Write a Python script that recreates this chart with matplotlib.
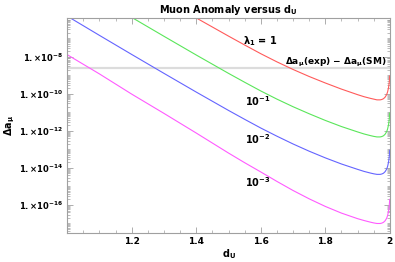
import matplotlib
matplotlib.use("Agg")
import matplotlib.pyplot as plt
from matplotlib.ticker import FixedLocator, FixedFormatter, NullFormatter, MultipleLocator

plt.rcParams['font.family'] = 'DejaVu Sans'
plt.rcParams['mathtext.default'] = 'bf'

# dimension d_U of the unparticle operator
d_u = [1.0, 1.1, 1.2, 1.3, 1.4, 1.5, 1.55, 1.6, 1.65, 1.7, 1.75, 1.8, 1.85, 1.9, 1.92, 1.94,
       1.95, 1.96, 1.97, 1.975, 1.98, 1.985, 1.99, 1.993, 1.996, 1.998, 1.9995]

# log10 of the unparticle contribution
# lambda_1 = 1 (red), from d_U = 1.3 on
red_log = [-4.90, -5.91, -6.89, -7.37, -7.84, -8.28, -8.69, -9.07, -9.42, -9.75, -10.05,
           -10.16, -10.25, -10.29, -10.33, -10.33, -10.31, -10.27, -10.19, -10.05, -9.90,
           -9.66, -9.40, -9.04]
# lambda_1 = 1e-1 (green), from d_U = 1.1 on
green_log = [-4.85, -5.88, -6.90, -7.91, -8.90, -9.38, -9.85, -10.29, -10.70, -11.08, -11.44,
             -11.77, -12.06, -12.17, -12.26, -12.30, -12.33, -12.33, -12.31, -12.27, -12.19,
             -12.05, -11.90, -11.66, -11.40, -11.04]
# lambda_1 = 1e-2 (blue)
blue_log = [-5.81, -6.85, -7.88, -8.90, -9.91, -10.90, -11.38, -11.85, -12.29, -12.71, -13.10,
            -13.46, -13.79, -14.08, -14.19, -14.28, -14.32, -14.35, -14.35, -14.33, -14.29,
            -14.21, -14.07, -13.92, -13.68, -13.42, -13.05]
# lambda_1 = 1e-3 (magenta)
magenta_log = [-7.89, -8.93, -10.02, -11.06, -12.12, -13.20, -13.72, -14.22, -14.73, -15.22,
               -15.67, -16.08, -16.44, -16.74, -16.84, -16.93, -16.97, -17.00, -17.00, -16.98,
               -16.94, -16.86, -16.72, -16.57, -16.33, -16.07, -15.70]

delta_a_mu = 2.55e-9   # measured deviation exp - SM

y_major = [1e-16, 1e-14, 1e-12, 1e-10, 1e-8]
y_labels = [r'$1.{\times}10^{-16}$', r'$1.{\times}10^{-14}$', r'$1.{\times}10^{-12}$',
            r'$1.{\times}10^{-10}$', r'$1.{\times}10^{-8}$']
x_major = [1.2, 1.4, 1.6, 1.8, 2.0]
x_labels = ['1.2', '1.4', '1.6', '1.8', '2']

fig = plt.figure(figsize=(3.95, 2.62), dpi=100)
ax = fig.add_axes([0.170, 0.112, 0.817, 0.818])

ax.axhline(delta_a_mu, color='#dcdcdc', lw=1.6, zorder=1)
ax.plot(d_u[3:], [10 ** v for v in red_log], color='#ff5a5a', lw=0.8)
ax.plot(d_u[1:], [10 ** v for v in green_log], color='#5ae65a', lw=0.8)
ax.plot(d_u, [10 ** v for v in blue_log], color='#6464ff', lw=0.8)
ax.plot(d_u, [10 ** v for v in magenta_log], color='#ff5aff', lw=0.8)

ax.set_yscale('log')
ax.set_xlim(1.0, 2.0)
ax.set_ylim(3.2e-18, 1.17e-6)

ax.yaxis.set_major_locator(FixedLocator(y_major))
ax.yaxis.set_major_formatter(FixedFormatter(y_labels))
minor = [m * 10.0 ** e for e in range(-18, -5) for m in range(1, 10)]
minor = [v for v in minor if v not in y_major]
ax.yaxis.set_minor_locator(FixedLocator(minor))
ax.yaxis.set_minor_formatter(NullFormatter())

ax.xaxis.set_major_locator(FixedLocator(x_major))
ax.xaxis.set_major_formatter(FixedFormatter(x_labels))
ax.xaxis.set_minor_locator(MultipleLocator(0.05))

for s in ax.spines.values():
    s.set_color('#a0a0a0')
    s.set_linewidth(0.8)
ax.tick_params(which='both', direction='in', top=True, right=True, color='#a0a0a0', pad=3)
ax.tick_params(axis='y', labelsize=6)
ax.tick_params(axis='x', labelsize=6.5)
ax.tick_params(which='major', length=4, width=0.6)
ax.tick_params(which='minor', length=2, width=0.5)
for lab in ax.get_xticklabels():
    lab.set_fontweight('bold')

ax.set_title(r'Muon Anomaly versus $d_U$', fontsize=7, fontweight='bold', pad=4)
ax.set_xlabel(r'$d_U$', fontsize=7, labelpad=1)
ax.set_ylabel(r'$\Delta a_\mu$', fontsize=7, labelpad=1)

ax.text(1.6, 7e-8, r'$\lambda_1\,=\,1$', fontsize=7, ha='center', va='center')
ax.text(1.99, 4.6e-9, r'$\Delta a_\mu(exp)\,-\,\Delta a_\mu(SM)$', fontsize=6.5,
        ha='right', va='center')
ax.text(1.59, 4.1e-11, r'$10^{-1}$', fontsize=7, ha='center', va='center')
ax.text(1.59, 3.6e-13, r'$10^{-2}$', fontsize=7, ha='center', va='center')
ax.text(1.59, 1.7e-15, r'$10^{-3}$', fontsize=7, ha='center', va='center')

fig.savefig('out.png', dpi=100)
